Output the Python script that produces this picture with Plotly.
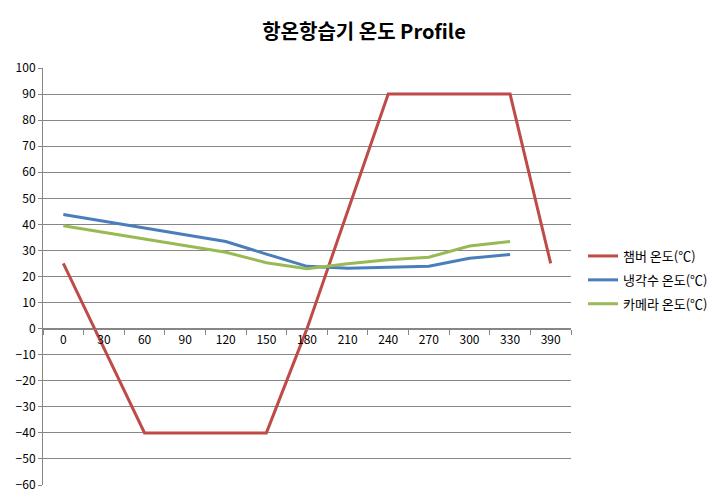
import plotly.graph_objects as go

categories = ["0", "30", "60", "90", "120", "150", "180", "210", "240", "270", "300", "330", "390"]
chamber = [25, -7.5, -40, -40, -40, -40, 0, 45, 90, 90, 90, 90, 25]
coolant = [43.8, 41.2, 38.6, 36.0, 33.4, 28.6, 23.9, 23.2, 23.5, 23.9, 27.0, 28.4, None]
camera = [39.5, 37.0, 34.4, 31.9, 29.3, 25.3, 23.0, 24.9, 26.4, 27.4, 31.7, 33.4, None]
series_names = ["챔버 온도(℃)", "냉각수 온도(℃)", "카메라 온도(℃)"]
colors = ["#BE4B48", "#4A7EBB", "#98B954"]
y_ticks = list(range(-60, 101, 10))

FONT = "Noto Sans CJK KR"
fig = go.Figure()
for i, (name, vals) in enumerate(zip(series_names, [chamber, coolant, camera])):
    fig.add_trace(go.Scatter(
        x=categories, y=vals, name=name, mode="lines",
        line=dict(color=colors[i], width=3),
        legendgroup=f"g{i}", connectgaps=False,
    ))

fig.update_layout(
    width=728, height=504,
    margin=dict(l=43, r=155, t=68, b=15),
    paper_bgcolor="white", plot_bgcolor="white",
    title=dict(text="<b>항온항습기 온도 Profile</b>", x=364/728, xanchor="center",
               y=1 - 32/504, yanchor="middle", font=dict(family=FONT, size=20, color="black")),
    font=dict(family=FONT, size=12, color="black"),
    showlegend=True,
    legend=dict(xref="container", yref="container", x=583/728, y=1 - 241/504,
                xanchor="left", yanchor="top", tracegroupgap=4,
                font=dict(family=FONT, size=13, color="black"),
                bgcolor="rgba(0,0,0,0)", borderwidth=0),
    xaxis=dict(type="category", categoryorder="array", categoryarray=categories,
               range=[-0.5, len(categories) - 0.5],
               anchor="free", position=60 / 160,
               showline=True, linecolor="#868686", linewidth=1,
               ticks="outside", ticklen=5, tickcolor="#868686", tickson="boundaries",
               showgrid=False, zeroline=False, tickfont=dict(size=12, color="black")),
    yaxis=dict(range=[-60, 100], tickvals=y_ticks, showline=True, linecolor="#868686",
               linewidth=1, ticks="outside", ticklen=4, tickcolor="#868686",
               showgrid=True, gridcolor="#868686", gridwidth=1, zeroline=False,
               tickfont=dict(size=12, color="black")),
)

fig.write_html("out.html")
